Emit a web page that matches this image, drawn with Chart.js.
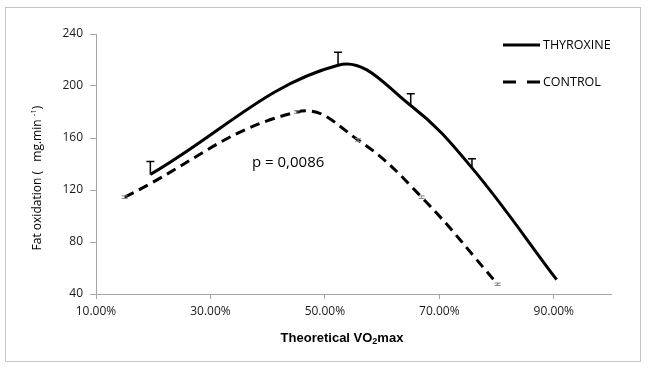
<!DOCTYPE html>
<html>
<head>
  <meta charset="UTF-8">
  <title>Fat oxidation vs theoretical VO2max</title>
  <script src="https://cdn.jsdelivr.net/npm/chart.js"></script>
  <style>
    body { margin: 0; background: #fff; }
    canvas { display: block; }
  </style>
</head>
<body>
  <canvas id="fatChart" width="650" height="369"></canvas>
  <script>
    // values (x in % of theoretical VO2max)
    const vo2Thyroxine = [19.5, 52.3, 65.0, 75.7, 90.5];
    const fatThyroxine = [132, 216, 185, 137, 51];
    const errThyroxine = [10, 10, 9, 7, 0];

    const vo2Control = [15.0, 45.1, 55.8, 66.9, 80.2];
    const fatControl = [114.5, 180, 158.5, 114.5, 47.5];
    const errControl = [1, 1, 1, 1, 1];

    const xTicks = [10, 30, 50, 70, 90];
    const yTicks = [40, 80, 120, 160, 200, 240];
    const seriesNames = ['THYROXINE', 'CONTROL'];
    const pValueText = 'p = 0,0086';

    const toPoints = (xs, ys) => xs.map((x, i) => ({ x: x, y: ys[i] }));
    const errors = [errThyroxine, errControl];

    // error bars, frame, titles, legend and the p value
    const extras = {
      id: 'extras',
      beforeDraw(chart) {
        const ctx = chart.ctx;
        ctx.save();
        ctx.strokeStyle = '#c4c4c4';
        ctx.lineWidth = 1;
        ctx.strokeRect(5.5, 7.5, 635, 354);
        ctx.restore();
      },
      afterDatasetsDraw(chart) {
        const ctx = chart.ctx;
        const yScale = chart.scales.y;
        ctx.save();
        chart.data.datasets.forEach((ds, di) => {
          const meta = chart.getDatasetMeta(di);
          meta.data.forEach((pt, i) => {
            const err = errors[di][i];
            if (!err) return;
            const v = ds.data[i].y;
            if (di === 0) {
              // upper bar only, black T
              const top = yScale.getPixelForValue(v + err);
              ctx.strokeStyle = '#000';
              ctx.lineWidth = 1.5;
              ctx.beginPath();
              ctx.moveTo(pt.x, pt.y);
              ctx.lineTo(pt.x, top);
              ctx.moveTo(pt.x - 4, top);
              ctx.lineTo(pt.x + 4, top);
              ctx.stroke();
            } else {
              const top = yScale.getPixelForValue(v + err);
              const bot = yScale.getPixelForValue(v - err);
              ctx.strokeStyle = '#8a8a8a';
              ctx.lineWidth = 1;
              ctx.beginPath();
              ctx.moveTo(pt.x, top);
              ctx.lineTo(pt.x, bot);
              ctx.moveTo(pt.x - 3, top);
              ctx.lineTo(pt.x + 3, top);
              ctx.moveTo(pt.x - 3, bot);
              ctx.lineTo(pt.x + 3, bot);
              ctx.stroke();
            }
          });
        });
        ctx.restore();
      },
      afterDraw(chart) {
        const ctx = chart.ctx;
        ctx.save();
        ctx.fillStyle = '#000';
        ctx.textBaseline = 'middle';

        // x title with subscript
        ctx.font = 'bold 13px "Liberation Sans", Arial, sans-serif';
        const a = 'Theoretical VO', b = '2', c = 'max';
        const wa = ctx.measureText(a).width;
        const wc = ctx.measureText(c).width;
        ctx.font = 'bold 9px "Liberation Sans", Arial, sans-serif';
        const wb = ctx.measureText(b).width;
        let x = 342 - (wa + wb + wc) / 2;
        const y = 338;
        ctx.font = 'bold 13px "Liberation Sans", Arial, sans-serif';
        ctx.textAlign = 'left';
        ctx.fillText(a, x, y);
        x += wa;
        ctx.font = 'bold 9px "Liberation Sans", Arial, sans-serif';
        ctx.fillText(b, x, y + 4);
        x += wb;
        ctx.font = 'bold 13px "Liberation Sans", Arial, sans-serif';
        ctx.fillText(c, x, y);

        // y title with superscript, rotated
        ctx.save();
        ctx.translate(38, 178);
        ctx.rotate(-Math.PI / 2);
        const t1 = 'Fat oxidation (   mg.min ', t2 = '-1', t3 = ')';
        ctx.font = '12px "Open Sans", sans-serif';
        const w1 = ctx.measureText(t1).width;
        const w3 = ctx.measureText(t3).width;
        ctx.font = '8px "Open Sans", sans-serif';
        const w2 = ctx.measureText(t2).width;
        let tx = -(w1 + w2 + w3) / 2;
        ctx.font = '12px "Open Sans", sans-serif';
        ctx.fillText(t1, tx, 0);
        tx += w1;
        ctx.font = '8px "Open Sans", sans-serif';
        ctx.fillText(t2, tx, -4);
        tx += w2;
        ctx.font = '12px "Open Sans", sans-serif';
        ctx.fillText(t3, tx, 0);
        ctx.restore();

        // p value
        ctx.font = '15px "Open Sans", sans-serif';
        ctx.fillText(pValueText, 252, 163);

        // legend
        const rows = [45, 82];
        chart.data.datasets.forEach((ds, i) => {
          const ly = rows[i];
          ctx.strokeStyle = '#000';
          ctx.lineWidth = 3;
          ctx.setLineDash(ds.borderDash ? [13, 11] : []);
          ctx.beginPath();
          ctx.moveTo(503, ly);
          ctx.lineTo(540, ly);
          ctx.stroke();
          ctx.setLineDash([]);
          ctx.font = '12.5px "Open Sans", sans-serif';
          ctx.fillText(seriesNames[i], 543, ly);
        });
        ctx.restore();
      }
    };

    const axisColor = '#a6a6a6';
    const tickFont = { family: '"Open Sans", sans-serif', size: 12 };

    new Chart(document.getElementById('fatChart'), {
      type: 'line',
      data: {
        datasets: [{
          label: seriesNames[0],
          data: toPoints(vo2Thyroxine, fatThyroxine),
          borderColor: '#000',
          borderWidth: 3,
          pointRadius: 0,
          tension: 0.38,
          fill: false
        }, {
          label: seriesNames[1],
          data: toPoints(vo2Control, fatControl),
          borderColor: '#000',
          borderWidth: 3,
          borderDash: [10, 6],
          pointRadius: 0,
          tension: 0.42,
          fill: false
        }]
      },
      options: {
        responsive: false,
        animation: false,
        layout: { padding: { left: 0, right: 39, top: 34, bottom: 0 } },
        plugins: {
          legend: { display: false },
          tooltip: { enabled: false }
        },
        scales: {
          x: {
            type: 'linear',
            min: 10,
            max: 100,
            afterBuildTicks: s => { s.ticks = xTicks.map(v => ({ value: v })); },
            afterFit: s => { s.height = 75; },
            ticks: {
              color: '#1a1a1a',
              font: tickFont,
              padding: 5,
              maxRotation: 0,
              callback: v => v.toFixed(2) + '%'
            },
            grid: { drawOnChartArea: false, tickLength: 5, color: axisColor },
            border: { color: axisColor }
          },
          y: {
            min: 40,
            max: 240,
            afterBuildTicks: s => { s.ticks = yTicks.map(v => ({ value: v })); },
            afterFit: s => { s.width = 96; },
            ticks: { color: '#1a1a1a', font: tickFont, padding: 7 },
            grid: { drawOnChartArea: false, tickLength: 6, color: axisColor },
            border: { color: axisColor }
          }
        }
      },
      plugins: [extras]
    });
  </script>
</body>
</html>
